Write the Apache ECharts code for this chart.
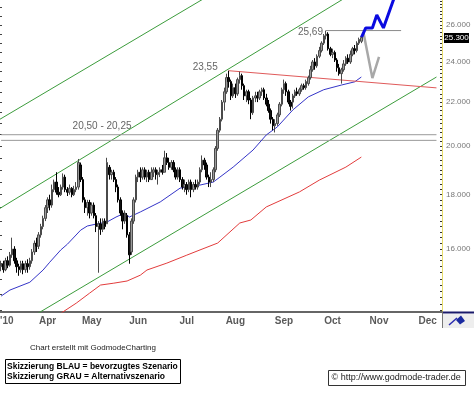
<!DOCTYPE html>
<html><head><meta charset="utf-8">
<script src="https://cdn.jsdelivr.net/npm/echarts@6/dist/echarts.min.js"></script>
<style>html,body{margin:0;padding:0;background:#fff}#c{width:474px;height:396px}</style>
</head><body><div id="c"></div>
<script>
// ---------- DATA ----------
const monthNames = ['Jan','Feb','Mar','Apr','May','Jun','Jul','Aug','Sep','Oct','Nov','Dec'];
const holidays = ['2010-04-02','2010-04-05'];
const firstDate = '2010-03-01', lastDate = '2010-12-09';
const firstCandleDate = '2010-03-03';
const yLabelValues = [16,18,20,22,24,26];

const open = [15.4,15.5,15.3,15.6,15.45,15.8,16.0,15.6,15.4,15.3,
15.5,15.3,15.5,15.4,15.6,15.9,16.2,16.1,16.5,16.8,
17.1,17.5,17.8,17.6,18.2,18.5,18.1,18.0,18.3,18.7,
18.2,18.1,18.25,18.0,18.2,18.3,19.2,18.6,17.8,17.5,
17.7,17.3,17.6,17.2,16.8,16.9,16.7,17.0,16.9,19.1,
18.8,18.9,18.6,18.3,17.8,17.3,17.0,17.2,16.5,15.9,
17.0,17.8,18.7,18.9,18.7,19.0,18.7,18.9,18.6,18.9,
19.0,18.8,18.9,19.0,18.9,19.5,19.3,19.1,19.3,19.0,
18.7,19.0,18.6,18.3,18.4,18.2,18.5,18.2,18.4,18.3,
18.5,19.0,19.4,19.2,18.7,18.5,18.6,19.0,19.9,20.7,
21.2,22.0,22.5,23.2,23.0,22.3,22.7,22.4,23.1,23.3,
22.8,22.3,22.5,22.1,21.5,22.2,22.3,22.2,22.5,22.6,
22.2,21.9,21.6,21.2,20.9,21.0,21.4,21.9,22.6,22.9,
22.5,22.0,22.0,22.3,22.5,22.4,22.6,22.8,22.7,22.9,
23.2,23.6,24.0,23.8,24.3,24.6,25.0,25.4,25.5,24.7,
24.4,24.5,24.1,23.7,23.4,23.6,23.9,24.2,24.0,24.4,
24.7,24.6,25.0,25.1];
const close = [15.5,15.3,15.6,15.45,15.8,16.0,15.6,15.4,15.3,15.5,
15.3,15.5,15.4,15.6,15.9,16.2,16.1,16.5,16.8,17.1,
17.5,17.8,17.6,18.2,18.5,18.1,18.0,18.3,18.7,18.2,
18.1,18.25,18.0,18.2,18.3,19.3,18.6,17.8,17.5,17.7,
17.3,17.6,17.2,16.8,16.9,16.7,17.0,16.8,19.3,18.8,
18.9,18.6,18.3,17.8,17.3,17.0,17.3,16.5,15.8,17.0,
17.8,18.7,18.9,18.7,19.0,18.7,18.9,18.6,18.9,19.0,
18.8,18.9,19.0,18.9,19.5,19.3,19.1,19.3,19.0,18.7,
19.0,18.6,18.3,18.4,18.2,18.5,18.2,18.4,18.3,18.5,
19.0,19.4,19.2,18.7,18.5,18.6,19.0,19.9,20.7,21.2,
22.0,22.5,23.2,23.0,22.3,22.7,22.4,23.1,23.3,22.8,
22.3,22.5,22.1,21.5,22.2,22.3,22.2,22.5,22.6,22.2,
21.9,21.6,21.2,20.9,21.0,21.4,21.9,22.6,22.9,22.5,
22.0,21.8,22.3,22.5,22.4,22.6,22.8,22.7,23.0,23.2,
23.6,24.0,23.8,24.3,24.6,25.0,25.4,25.5,24.7,24.4,
24.5,24.1,23.7,23.4,23.6,23.9,24.2,24.0,24.4,24.7,
24.6,25.0,25.2,25.3];
const low = [15.25,15.2,15.25,15.35,15.4,15.7,15.5,15.2,15.1,15.2,
15.15,15.2,15.2,15.3,15.5,15.8,15.9,16.0,16.4,16.7,
17.0,17.3,17.4,17.5,18.1,18.0,17.9,17.95,18.2,18.1,
17.95,18.0,17.9,17.95,18.1,18.2,18.5,17.7,17.3,17.2,
17.1,17.2,17.1,16.6,15.2,16.5,16.6,16.7,16.9,18.6,
18.6,18.5,18.1,17.7,17.2,16.7,16.9,16.4,15.5,15.8,
16.9,17.7,18.5,18.5,18.6,18.6,18.5,18.5,18.6,18.7,
18.6,18.4,18.7,18.8,18.9,19.2,19.0,19.0,18.9,18.6,
18.6,18.5,18.2,18.1,18.0,18.1,17.9,18.1,18.2,18.2,
18.4,18.9,19.0,18.6,18.3,18.3,18.5,18.9,19.8,20.6,
21.1,21.6,22.4,22.7,22.1,22.2,22.2,22.3,22.9,22.6,
22.1,22.0,21.9,21.2,21.4,22.0,22.0,22.1,22.3,22.1,
21.8,21.5,21.0,20.7,20.6,20.9,21.3,21.8,22.4,22.3,
21.9,21.6,21.7,22.2,22.3,22.3,22.5,22.6,22.6,22.8,
23.1,23.5,23.6,23.7,24.2,24.5,24.9,25.2,24.6,24.3,
24.2,24.0,23.5,23.3,22.9,23.5,23.8,23.9,23.9,24.3,
24.4,24.5,24.9,25.0];
const high = [15.6,15.6,15.7,15.75,15.9,16.4,16.1,15.7,15.5,15.6,
15.6,15.6,15.65,15.7,16.0,16.3,16.4,16.6,16.9,17.2,
17.6,17.9,18.0,18.4,18.6,18.9,18.3,18.4,18.85,18.8,
18.3,18.4,18.3,18.35,18.5,19.45,19.3,18.7,17.9,17.8,
17.8,17.7,17.7,17.3,17.0,17.1,17.1,17.1,19.5,19.2,
19.0,19.0,18.7,18.4,17.9,17.4,17.4,17.3,16.6,17.1,
17.9,18.8,19.0,19.1,19.1,19.1,19.0,19.0,19.1,19.1,
19.1,19.0,19.1,19.2,19.8,19.7,19.5,19.4,19.4,19.1,
19.1,19.1,18.7,18.6,18.5,18.6,18.6,18.5,18.6,18.6,
19.1,19.6,19.5,19.3,18.8,18.9,19.1,20.0,20.8,21.3,
22.1,22.7,23.4,23.55,23.1,22.9,22.9,23.2,23.5,23.4,
22.9,22.6,22.6,22.2,22.3,22.5,22.5,22.6,22.7,22.7,
22.4,22.1,21.7,21.3,21.2,21.5,22.0,22.7,23.1,23.0,
22.6,22.1,22.4,22.6,22.7,22.7,22.9,22.9,23.1,23.3,
23.8,24.1,24.2,24.4,24.8,25.1,25.5,25.69,25.6,24.8,
24.7,24.6,24.2,23.9,23.7,24.1,24.3,24.4,24.6,24.8,
24.9,25.1,25.3,25.35];

const ma50 = [['2010-03-03',14.45],['2010-03-09',14.64],['2010-03-22',14.89],['2010-03-30',15.29],
['2010-04-06',15.55],['2010-04-13',15.97],['2010-04-16',16.17],['2010-04-26',16.67],['2010-04-29',16.82],
['2010-05-05',16.89],['2010-05-12',16.97],['2010-05-18',17.15],['2010-05-24',17.30],['2010-05-26',17.15],
['2010-06-02',17.34],['2010-06-15',17.72],['2010-06-28',18.26],['2010-07-09',18.38],['2010-07-19',18.50],
['2010-07-22',18.70],['2010-07-30',19.11],['2010-08-12',19.83],['2010-08-20',20.49],['2010-08-27',20.85],
['2010-09-07',21.63],['2010-09-16',22.25],['2010-09-27',22.60],['2010-10-07',22.83],['2010-10-15',22.99],
['2010-10-20',23.23]];
const ma200 = [['2010-04-13',13.92],['2010-04-22',14.23],['2010-04-30',14.54],['2010-05-07',14.80],
['2010-05-17',14.86],['2010-05-25',14.93],['2010-06-02',15.12],['2010-06-07',15.29],['2010-06-18',15.52],
['2010-07-01',15.79],['2010-07-09',15.97],['2010-07-21',16.21],['2010-08-04',16.93],['2010-08-11',17.04],
['2010-08-20',17.53],['2010-09-10',18.11],['2010-09-23',18.58],['2010-10-11',19.11],['2010-10-20',19.53]];

const channelTop = [['2010-03-02',21.17],['2010-07-16',27.79]];
const channelMid = [['2010-03-02',17.45],['2010-10-15',27.93]];
const channelLow = [['2010-03-17',13.66],['2010-12-07',23.23]];
const resistance = [['2010-07-28',23.55],['2010-12-07',22.69]];
const zone1 = [['2010-03-03',20.50],['2010-12-07',20.50]];
const zone2 = [['2010-03-03',20.25],['2010-12-07',20.25]];
const highLine = [['2010-09-28',25.69],['2010-11-15',25.69]];
const scenarioBlue = [['2010-10-20',25.30],['2010-10-22',25.84],['2010-10-27',25.84],['2010-10-29',26.57],['2010-11-03',25.84],['2010-11-11',28.0]];
const scenarioGrey = [['2010-10-21',25.56],['2010-10-27',23.18],['2010-11-01',24.27]];
const lastPrice = 25.30;

// ---------- BUILD ----------
function buildDates(){
  const out=[]; const d=new Date(firstDate+'T00:00:00Z');
  while(true){
    const s=d.toISOString().slice(0,10);
    const wd=d.getUTCDay();
    if(wd!==0&&wd!==6&&holidays.indexOf(s)<0) out.push(s);
    if(s===lastDate) break;
    d.setUTCDate(d.getUTCDate()+1);
  }
  return out;
}
const dates = buildDates();
const off = dates.indexOf(firstCandleDate);
const candleData = dates.map((d,i)=>{
  const j=i-off;
  return (j>=0 && j<open.length) ? [open[j],close[j],low[j],high[j]] : '-';
});
const tickMinor=[]; for(let v=14;v<=27.4;v+=0.2) tickMinor.push(+v.toFixed(1));
const tickLeft=[]; for(let v=14;v<=27.4;v+=0.5) tickLeft.push(v);

const YMIN=13.96, YMAX=27.45;
const FONT='Liberation Sans, Arial, sans-serif';
function lineS(data,color,width){return {type:'line',data:data,symbol:'none',silent:true,
  lineStyle:{color:color,width:width},itemStyle:{color:color},z:3};}

const chart = echarts.init(document.getElementById('c'),null,{renderer:'canvas'});
chart.setOption({
  animation:false,
  backgroundColor:'#fff',
  grid:{left:0,right:32,top:0,bottom:84,containLabel:false},
  xAxis:{type:'category',data:dates,min:off,boundaryGap:true,
    axisLine:{lineStyle:{color:'#666',width:2}},
    axisTick:{show:false},
    axisLabel:{interval:function(i){return i>0 && dates[i].slice(5,7)!==dates[i-1].slice(5,7);},
      formatter:function(v){return monthNames[+v.slice(5,7)-1];},
      fontFamily:FONT,fontSize:10,fontWeight:'bold',color:'#5a5a5a',margin:4},
    splitLine:{show:false}},
  yAxis:[
    {type:'log',position:'right',min:YMIN,max:YMAX,
     axisLine:{show:true,lineStyle:{color:'#e6dc6a',width:1}},
     axisTick:{show:true,inside:true,length:2,customValues:tickMinor,lineStyle:{color:'#333'}},
     axisLabel:{show:true,customValues:yLabelValues,formatter:function(v){return (+v).toFixed(3);},
       fontFamily:FONT,fontSize:8,color:'#777',margin:4},
     splitLine:{show:false}},
    {type:'log',position:'left',min:YMIN,max:YMAX,
     axisLine:{show:false},
     axisTick:{show:true,inside:true,length:2,customValues:tickLeft,lineStyle:{color:'#444'}},
     axisLabel:{show:false},splitLine:{show:false}}
  ],
  series:[
    {type:'candlestick',data:candleData,barWidth:2,silent:true,z:4,
     itemStyle:{color:'#9a9a9a',color0:'#111',borderColor:'#4a4a4a',borderColor0:'#000',borderWidth:1}},
    lineS(channelTop,'#3c9c3c',1),
    lineS(channelMid,'#3c9c3c',1),
    lineS(channelLow,'#3c9c3c',1),
    lineS(zone1,'#9a9a9a',1),
    lineS(zone2,'#9a9a9a',1),
    lineS(ma200,'#e23c3c',1),
    lineS(ma50,'#3535c8',1),
    lineS(resistance,'#e05a5a',1),
    lineS(highLine,'#8a8a8a',1),
    lineS(scenarioGrey,'#a8a8a8',2.5),
    lineS(scenarioBlue,'#0a0ae0',3)
  ]
});

function px(pt){return chart.convertToPixel({seriesIndex:0},pt);}
const pA=px(['2010-07-28',23.55]);
const pB=px(['2010-09-28',25.69]);
const pC=px(['2010-05-07',20.50]);
const pL=px([dates[dates.length-1],lastPrice]);
chart.setOption({graphic:[
  {type:'text',x:pA[0]-11,y:pA[1]-3,style:{text:'23,55',font:'10px '+FONT,fill:'#666',align:'right',verticalAlign:'middle'}},
  {type:'text',x:pB[0]-3,y:pB[1]+2,style:{text:'25,69',font:'10px '+FONT,fill:'#666',align:'right',verticalAlign:'middle'}},
  {type:'text',x:pC[0]+1.5,y:pC[1]-8,style:{text:'20,50 - 20,25',font:'10px '+FONT,fill:'#666',align:'center',verticalAlign:'middle'}},
  {type:'rect',shape:{x:444,y:Math.round(pL[1])-5,width:25,height:10},style:{fill:'#000'}},
  {type:'text',x:456.5,y:Math.round(pL[1]),style:{text:'25.300',font:'8px '+FONT,fill:'#fff',align:'center',verticalAlign:'middle'}},
  {type:'text',x:0,y:321,style:{text:"'10",font:'bold 10px '+FONT,fill:'#5a5a5a',align:'left',verticalAlign:'middle'}},
  {type:'line',shape:{x1:442,y1:312.5,x2:474,y2:312.5},style:{stroke:'#1a1a6a',lineWidth:2}},
  {type:'line',shape:{x1:442.5,y1:312,x2:442.5,y2:328},style:{stroke:'#777',lineWidth:1}},
  {type:'rect',shape:{x:443,y:314,width:31,height:14},style:{fill:'#eeeeee'}},
  {type:'line',shape:{x1:449,y1:325,x2:457,y2:318},style:{stroke:'#2a2ab0',lineWidth:1.5}},
  {type:'polygon',shape:{points:[[456,320],[461,315.5],[465,321],[460,324.5]]},style:{fill:'#1a2aa0'}},
  {type:'text',x:93,y:348,style:{text:'Chart erstellt mit GodmodeCharting',font:'8px '+FONT,fill:'#222',align:'center',verticalAlign:'middle'}},
  {type:'rect',shape:{x:5.5,y:359.5,width:175,height:24},style:{fill:'#fff',stroke:'#000',lineWidth:1}},
  {type:'text',x:7,y:366.5,style:{text:'Skizzierung BLAU = bevorzugtes Szenario',font:'bold 8.5px '+FONT,fill:'#000',align:'left',verticalAlign:'middle'}},
  {type:'text',x:7,y:377,style:{text:'Skizzierung GRAU = Alternativszenario',font:'bold 8.5px '+FONT,fill:'#000',align:'left',verticalAlign:'middle'}},
  {type:'rect',shape:{x:328.5,y:370.5,width:137,height:15},style:{fill:'#fff',stroke:'#333',lineWidth:1}},
  {type:'text',x:331.5,y:378,style:{text:'\u00A9 http://www.godmode-trader.de',font:'9px '+FONT,fill:'#222',align:'left',verticalAlign:'middle'}}
]});
</script>
</body></html>
